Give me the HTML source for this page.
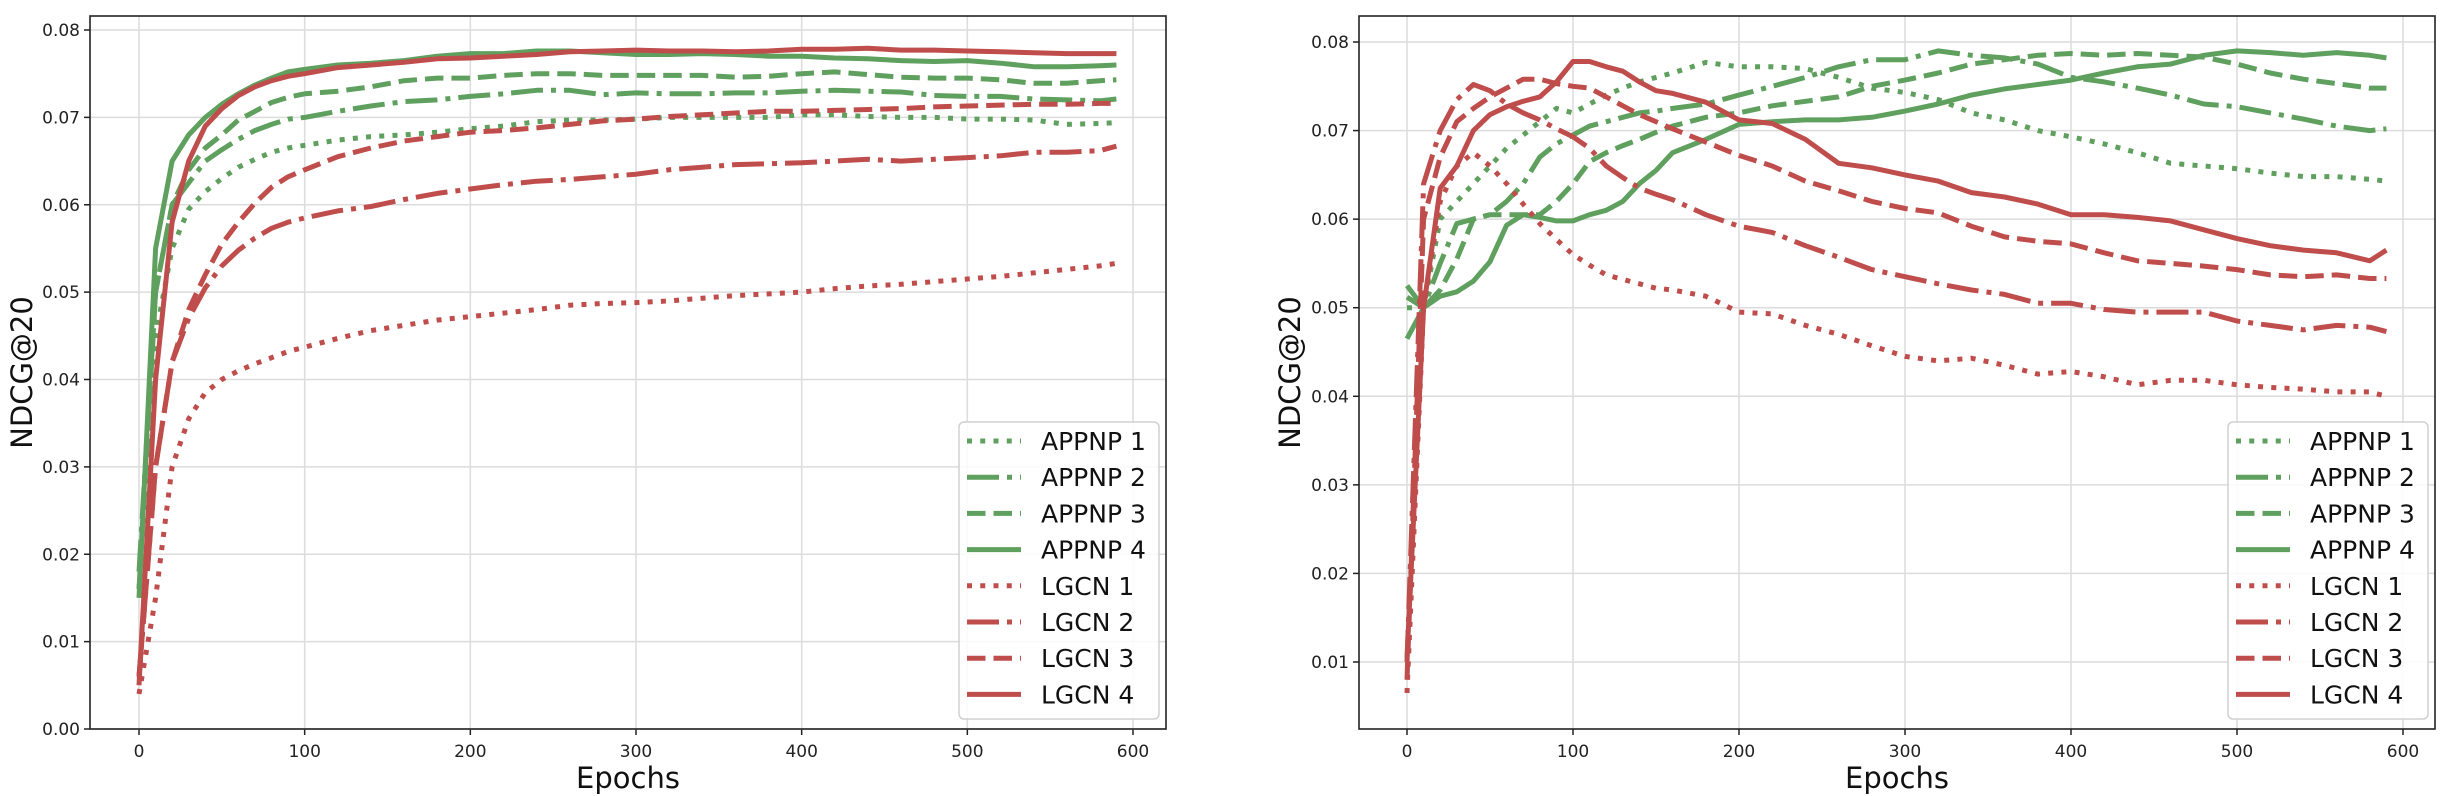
<!DOCTYPE html>
<html><head><meta charset="utf-8">
<style>
html,body{margin:0;padding:0;background:#fff;}
svg{display:block;font-family:"DejaVu Sans","Liberation Sans",sans-serif;}
</style></head>
<body>
<svg id="fig" width="2456" height="796" viewBox="0 0 2456 796" xmlns="http://www.w3.org/2000/svg"></svg>
<script>
// ---------- data ----------
const SERIES_NAMES = ["APPNP 1","APPNP 2","APPNP 3","APPNP 4","LGCN 1","LGCN 2","LGCN 3","LGCN 4"];
const X_TICKS = [0,100,200,300,400,500,600];
const Y_TICKS_LEFT = [0,0.01,0.02,0.03,0.04,0.05,0.06,0.07,0.08];
const Y_TICKS_RIGHT = [0.01,0.02,0.03,0.04,0.05,0.06,0.07,0.08];

const L_EPOCHS = [0,10,20,30,40,50,60,70,80,90,100,120,140,160,180,200,220,240,260,280,300,320,340,360,380,400,420,440,460,480,500,520,540,560,580,590];
const L_APPNP1 = [0.016,0.045,0.055,0.0595,0.0615,0.063,0.0643,0.0652,0.066,0.0665,0.0668,0.0674,0.0678,0.068,0.0683,0.0687,0.069,0.0695,0.0697,0.0697,0.0698,0.07,0.07,0.07,0.07,0.0703,0.0703,0.0701,0.07,0.07,0.0698,0.0698,0.0697,0.0692,0.0693,0.0694];
const L_APPNP2 = [0.018,0.05,0.06,0.0625,0.065,0.0663,0.0675,0.0685,0.0692,0.0698,0.07,0.0707,0.0713,0.0718,0.072,0.0724,0.0727,0.0731,0.0731,0.0726,0.0728,0.0727,0.0727,0.0728,0.0728,0.073,0.0731,0.073,0.0729,0.0725,0.0724,0.0724,0.0721,0.072,0.0719,0.0721];
const L_APPNP3 = [0.016,0.05,0.06,0.064,0.0665,0.068,0.0697,0.0707,0.0717,0.0723,0.0727,0.073,0.0735,0.0742,0.0745,0.0745,0.0748,0.075,0.075,0.0748,0.0748,0.0748,0.0748,0.0746,0.0747,0.075,0.0752,0.0749,0.0746,0.0745,0.0745,0.0743,0.0739,0.0739,0.0742,0.0743];
const L_APPNP4 = [0.015,0.055,0.065,0.068,0.07,0.0715,0.0727,0.0737,0.0745,0.0752,0.0755,0.076,0.0762,0.0765,0.077,0.0773,0.0773,0.0776,0.0776,0.0774,0.0772,0.0772,0.0773,0.0772,0.077,0.077,0.0768,0.0767,0.0765,0.0764,0.0765,0.0762,0.0758,0.0758,0.0759,0.076];
const L_LGCN1 = [0.004,0.015,0.03,0.0355,0.0385,0.04,0.041,0.0418,0.0425,0.0432,0.0437,0.0447,0.0456,0.0462,0.0468,0.0472,0.0476,0.048,0.0485,0.0487,0.0488,0.049,0.0493,0.0496,0.0498,0.05,0.0504,0.0507,0.0509,0.0512,0.0515,0.0518,0.0522,0.0526,0.053,0.0533];
const L_LGCN2 = [0.006,0.03,0.042,0.047,0.0505,0.053,0.0548,0.0562,0.0573,0.058,0.0585,0.0593,0.0598,0.0606,0.0613,0.0618,0.0623,0.0627,0.0629,0.0632,0.0635,0.064,0.0643,0.0646,0.0647,0.0648,0.065,0.0652,0.065,0.0652,0.0654,0.0656,0.066,0.066,0.0662,0.0667];
const L_LGCN3 = [0.006,0.03,0.042,0.048,0.052,0.0555,0.058,0.0602,0.062,0.0632,0.064,0.0655,0.0665,0.0673,0.0678,0.0683,0.0685,0.0688,0.0692,0.0696,0.0698,0.0701,0.0703,0.0705,0.0707,0.0707,0.0708,0.0709,0.071,0.0712,0.0713,0.0714,0.0715,0.0715,0.0716,0.0716];
const L_LGCN4 = [0.005,0.04,0.058,0.065,0.069,0.071,0.0725,0.0735,0.0742,0.0747,0.075,0.0757,0.076,0.0763,0.0767,0.0768,0.077,0.0772,0.0775,0.0776,0.0777,0.0776,0.0776,0.0775,0.0776,0.0778,0.0778,0.0779,0.0777,0.0777,0.0776,0.0775,0.0774,0.0773,0.0773,0.0773];

const R_EPOCHS = [0,10,20,30,40,50,60,70,80,90,100,110,120,130,140,150,160,180,200,220,240,260,280,300,320,340,360,380,400,420,440,460,480,500,520,540,560,580,590];
const R_APPNP1 = [0.05,0.05,0.06,0.062,0.064,0.066,0.068,0.0695,0.071,0.0725,0.072,0.073,0.074,0.0748,0.0755,0.076,0.0765,0.0777,0.0772,0.0772,0.077,0.076,0.0748,0.0743,0.0735,0.072,0.0712,0.07,0.0693,0.0685,0.0675,0.0663,0.066,0.0657,0.0652,0.0648,0.0648,0.0645,0.0643];
const R_APPNP2 = [0.0525,0.05,0.055,0.0595,0.06,0.0605,0.062,0.064,0.067,0.0685,0.0695,0.0705,0.071,0.0715,0.072,0.0722,0.0725,0.073,0.074,0.075,0.076,0.0772,0.078,0.078,0.079,0.0785,0.0782,0.0775,0.076,0.0755,0.0748,0.074,0.073,0.0727,0.072,0.0713,0.0705,0.07,0.0702];
const R_APPNP3 = [0.0512,0.05,0.052,0.0555,0.06,0.0605,0.0605,0.0605,0.0605,0.062,0.064,0.0665,0.0675,0.0683,0.069,0.0698,0.0705,0.0715,0.072,0.0728,0.0733,0.0738,0.075,0.0757,0.0765,0.0775,0.078,0.0785,0.0787,0.0785,0.0787,0.0785,0.0783,0.0775,0.0765,0.0758,0.0753,0.0748,0.0748];
const R_APPNP4 = [0.0465,0.05,0.0513,0.0518,0.053,0.0552,0.0593,0.0605,0.0602,0.0598,0.0598,0.0605,0.061,0.062,0.064,0.0655,0.0675,0.069,0.0707,0.071,0.0712,0.0712,0.0715,0.0722,0.073,0.074,0.0747,0.0752,0.0757,0.0765,0.0772,0.0775,0.0785,0.079,0.0788,0.0785,0.0788,0.0785,0.0782];
const R_LGCN1 = [0.0065,0.05,0.062,0.066,0.0675,0.066,0.064,0.0617,0.0595,0.0577,0.056,0.0548,0.0537,0.0532,0.0527,0.0522,0.052,0.0513,0.0495,0.0493,0.048,0.047,0.0457,0.0445,0.044,0.0443,0.0435,0.0425,0.0428,0.0422,0.0413,0.0418,0.0418,0.0413,0.041,0.0408,0.0405,0.0405,0.04];
const R_LGCN2 = [0.01,0.064,0.07,0.0735,0.0752,0.0745,0.073,0.072,0.0712,0.0702,0.0693,0.068,0.066,0.0647,0.0635,0.0628,0.0622,0.0605,0.0592,0.0585,0.057,0.0557,0.0543,0.0535,0.0527,0.052,0.0515,0.0505,0.0505,0.0498,0.0495,0.0495,0.0495,0.0485,0.048,0.0475,0.048,0.0478,0.0473];
const R_LGCN3 = [0.008,0.06,0.067,0.071,0.0725,0.0738,0.0748,0.0758,0.0758,0.0753,0.075,0.0748,0.0738,0.0728,0.0718,0.071,0.0702,0.0687,0.0672,0.066,0.0643,0.0632,0.062,0.0612,0.0607,0.0592,0.058,0.0575,0.0572,0.0562,0.0553,0.055,0.0547,0.0543,0.0537,0.0535,0.0537,0.0533,0.0533];
const R_LGCN4 = [0.0105,0.05,0.0635,0.066,0.07,0.0718,0.0727,0.0733,0.0738,0.0755,0.0778,0.0778,0.0772,0.0767,0.0755,0.0745,0.0742,0.0732,0.0712,0.0708,0.069,0.0663,0.0658,0.065,0.0643,0.063,0.0625,0.0617,0.0605,0.0605,0.0602,0.0598,0.0588,0.0578,0.057,0.0565,0.0562,0.0553,0.0565];

// ---------- styling ----------
const GREEN = "#5fa05f", RED = "#bf4d4b", LW = 5;
const DASHES = ["5,8.25","32,8,5,8","18.5,8",""];
const NS = "http://www.w3.org/2000/svg";
const svg = document.getElementById("fig");
function mk(tag, attrs, parent){ const e=document.createElementNS(NS,tag); for(const k in attrs) e.setAttribute(k,attrs[k]); (parent||svg).appendChild(e); return e; }

function drawPanel(cfg){
  const g = mk("g",{});
  
  
  const xs = v => cfg.x0 + (v - 0) * (cfg.x600 - cfg.x0) / 600;
  const ys = v => cfg.yRef0 - (v - cfg.vRef0) * (cfg.yRef0 - cfg.yRef1) / (cfg.vRef1 - cfg.vRef0);
  // grid
  X_TICKS.forEach(t=>{
    const l = mk("line",{x1:xs(t),x2:xs(t),y1:cfg.top,y2:cfg.bottom,stroke:"#dcdcdc","stroke-width":1.5},g);
    
    
    const tk = mk("line",{x1:xs(t),x2:xs(t),y1:cfg.bottom,y2:cfg.bottom+6,stroke:"#222","stroke-width":1.5},g);
    
    
    const tx = mk("text",{x:xs(t),y:cfg.bottom+28,"text-anchor":"middle","font-size":17,fill:"#222"},g);
    tx.textContent = t;
    
    
  });
  cfg.yTicks.forEach(t=>{
    const y = ys(t);
    const l = mk("line",{x1:cfg.left,x2:cfg.right,y1:y,y2:y,stroke:"#dcdcdc","stroke-width":1.5},g);
    
    
    const tk = mk("line",{x1:cfg.left-6,x2:cfg.left,y1:y,y2:y,stroke:"#222","stroke-width":1.5},g);
    
    
    const tx = mk("text",{x:cfg.left-10,y:y+6,"text-anchor":"end","font-size":17,fill:"#222"},g);
    tx.textContent = t.toFixed(2);
    
    
  });
  // series
  const clip = mk("clipPath",{id:cfg.name+"-clip"},g);
  mk("rect",{x:cfg.left,y:cfg.top,width:cfg.right-cfg.left,height:cfg.bottom-cfg.top},clip);
  cfg.series.forEach((vals,i)=>{
    const pts = vals.map((v,j)=>xs(cfg.epochs[j]).toFixed(1)+","+ys(v).toFixed(1)).join(" ");
    const p = mk("polyline",{points:pts,fill:"none",stroke:i<4?GREEN:RED,"stroke-width":LW,"stroke-dasharray":DASHES[i%4],"stroke-linejoin":"round","clip-path":"url(#"+cfg.name+"-clip)"},g);
    
    
  });
  // frame
  const fr = mk("rect",{x:cfg.left,y:cfg.top,width:cfg.right-cfg.left,height:cfg.bottom-cfg.top,fill:"none",stroke:"#222","stroke-width":1.6},g);
  
  
  // axis titles
  const xt = mk("text",{x:(cfg.left+cfg.right)/2,y:788,"text-anchor":"middle","font-size":29,fill:"#111"},g);
  xt.textContent = "Epochs";
  
  
  const yt = mk("text",{x:0,y:0,"text-anchor":"middle","font-size":29,fill:"#111",transform:"translate("+cfg.yTitleX+","+((cfg.top+cfg.bottom)/2)+") rotate(-90)"},g);
  yt.textContent = "NDCG@20";
  
  
  // legend
  const lg = mk("g",{},g);
  
  
  mk("rect",{x:cfg.legX,y:422,width:200,height:297,rx:5,fill:"rgba(255,255,255,0.85)",stroke:"#d0d0d0","stroke-width":1.5},lg);
  SERIES_NAMES.forEach((n,i)=>{
    const cy = 441 + i*36.2;
    const e = mk("g",{},lg);
    
    
    mk("line",{x1:cfg.legX+8,x2:cfg.legX+62,y1:cy,y2:cy,stroke:i<4?GREEN:RED,"stroke-width":LW,"stroke-dasharray":DASHES[i%4]},e);
    const t = mk("text",{x:cfg.legX+82,y:cy+9,"font-size":25,fill:"#111"},e);
    t.textContent = n;
  });
}

drawPanel({name:"left-chart",left:90,right:1166,top:16,bottom:729,x0:139,x600:1133,
  vRef0:0,yRef0:729,vRef1:0.08,yRef1:30,yTicks:Y_TICKS_LEFT,yTitleX:32,legX:959,
  epochs:L_EPOCHS,series:[L_APPNP1,L_APPNP2,L_APPNP3,L_APPNP4,L_LGCN1,L_LGCN2,L_LGCN3,L_LGCN4]});
drawPanel({name:"right-chart",left:1359,right:2435,top:16,bottom:729,x0:1407,x600:2403,
  vRef0:0.01,yRef0:662,vRef1:0.08,yRef1:42,yTicks:Y_TICKS_RIGHT,yTitleX:1300,legX:2228,
  epochs:R_EPOCHS,series:[R_APPNP1,R_APPNP2,R_APPNP3,R_APPNP4,R_LGCN1,R_LGCN2,R_LGCN3,R_LGCN4]});
</script>
</body></html>
